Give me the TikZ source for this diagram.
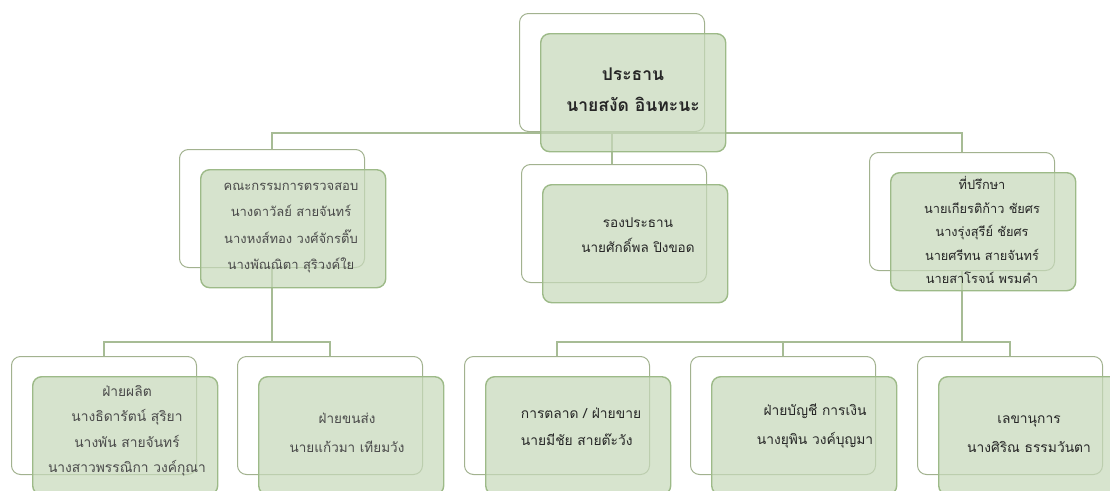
\documentclass[tikz,border=0pt]{standalone}
\usepackage{fontspec}
\newfontfamily\thai[Script=Thai]{Loma}
\definecolor{frontfill}{HTML}{C7D9BB}
\definecolor{frontdraw}{HTML}{9DBA88}
\definecolor{backdraw}{HTML}{A2B28F}
\definecolor{linecol}{HTML}{A7BC95}
\definecolor{txtdark}{HTML}{262626}
\definecolor{txtgray}{HTML}{4A4A4A}
\tikzset{
  backbox/.style={draw=backdraw, line width=1pt, fill=white, rounded corners=9pt,
    minimum width=185pt, minimum height=118pt, anchor=north west, inner sep=0pt},
  frontbox/.style={draw=frontdraw, line width=1.4pt, fill=frontfill, fill opacity=0.72,
    rounded corners=9pt, minimum width=185pt, minimum height=118pt, anchor=north west, inner sep=0pt},
  conn/.style={draw=linecol, line width=1.3pt},
  boxtext/.style={align=center, inner sep=0pt, text=txtdark},
  graytext/.style={boxtext, text=txtgray}
}
\newcommand\fs[2]{\thai\fontsize{#1}{#2}\selectfont}
\begin{document}
\begin{tikzpicture}[x=1pt,y=-1pt]
\useasboundingbox (0,0) rectangle (1110,490);
\clip (0,0) rectangle (1110,490);
% back boxes
\node[backbox] (topb) at (519,13) {};
\node[backbox] (comb) at (179,149) {};
\node[backbox] (viceb) at (521,164) {};
\node[backbox] (advb) at (869,152) {};
\node[backbox] (p1b) at (11,356) {};
\node[backbox] (p2b) at (237,356) {};
\node[backbox] (p3b) at (464,356) {};
\node[backbox] (p4b) at (690,356) {};
\node[backbox] (p5b) at (917,356) {};
% connectors
\coordinate (bus1) at (0,133);
\coordinate (bus2) at (0,342);
\draw[conn] (topb.south) -- (topb.south |- viceb.north);
\draw[conn] (comb.north) -- (comb.north |- bus1) -- (advb.north |- bus1) -- (advb.north);
\draw[conn] (comb.south) -- (comb.south |- bus2);
\draw[conn] (p1b.north) -- (p1b.north |- bus2) -- (p2b.north |- bus2) -- (p2b.north);
\draw[conn] (advb.south) -- (advb.south |- bus2);
\draw[conn] (p3b.north) -- (p3b.north |- bus2) -- (p5b.north |- bus2) -- (p5b.north);
\draw[conn] (p4b.north |- bus2) -- (p4b.north);
% front boxes
\foreach \n in {top,com,vice,adv,p1,p2,p3,p4,p5}{
  \node[frontbox] (\n f) at ([shift={(21pt,-20pt)}]\n b.north west) {};
}
% texts
\node[boxtext, font=\fs{17.5}{31}\bfseries] (toptx) at (633,90) {ประธาน\\นายสงัด อินทะนะ};
\node[graytext, font=\fs{13}{26.5}] (comtx) at (291,228) {คณะกรรมการตรวจสอบ\\นางดาวัลย์ สายจันทร์\\นางหงส์ทอง วงศ์จักรติ๊บ\\นางพัณณิตา สุริวงค์ใย};
\node[boxtext, font=\fs{13.5}{25}] (vicetx) at (638,235) {รองประธาน\\นายศักดิ์พล ปิงขอด};
\node[boxtext, font=\fs{12.8}{23.5}] (advtx) at (982,230) {ที่ปรึกษา\\นายเกียรติก้าว ชัยศร\\นางรุ่งสุรีย์ ชัยศร\\นายศรีทน สายจันทร์\\นายสาโรจน์ พรมคำ};
\node[graytext, font=\fs{13.8}{25.5}] (p1tx) at (127,431) {ฝ่ายผลิต\\นางธิดารัตน์ สุริยา\\นางพัน สายจันทร์\\นางสาวพรรณิกา วงค์กุณา};
\node[graytext, font=\fs{13.5}{29}] (p2tx) at (347,433) {ฝ่ายขนส่ง\\นายแก้วมา เทียมวัง};
\node[boxtext, align=left, font=\fs{13.8}{27}] (p3tx) at (581,427) {การตลาด / ฝ่ายขาย\\นายมีชัย สายต๊ะวัง};
\node[boxtext, font=\fs{13.8}{29}] (p4tx) at (815,426) {ฝ่ายบัญชี การเงิน\\นางยุพิน วงค์บุญมา};
\node[boxtext, font=\fs{13.8}{29}] (p5tx) at (1029,434) {เลขานุการ\\นางศิริณ ธรรมวันตา};
\end{tikzpicture}
\end{document}
